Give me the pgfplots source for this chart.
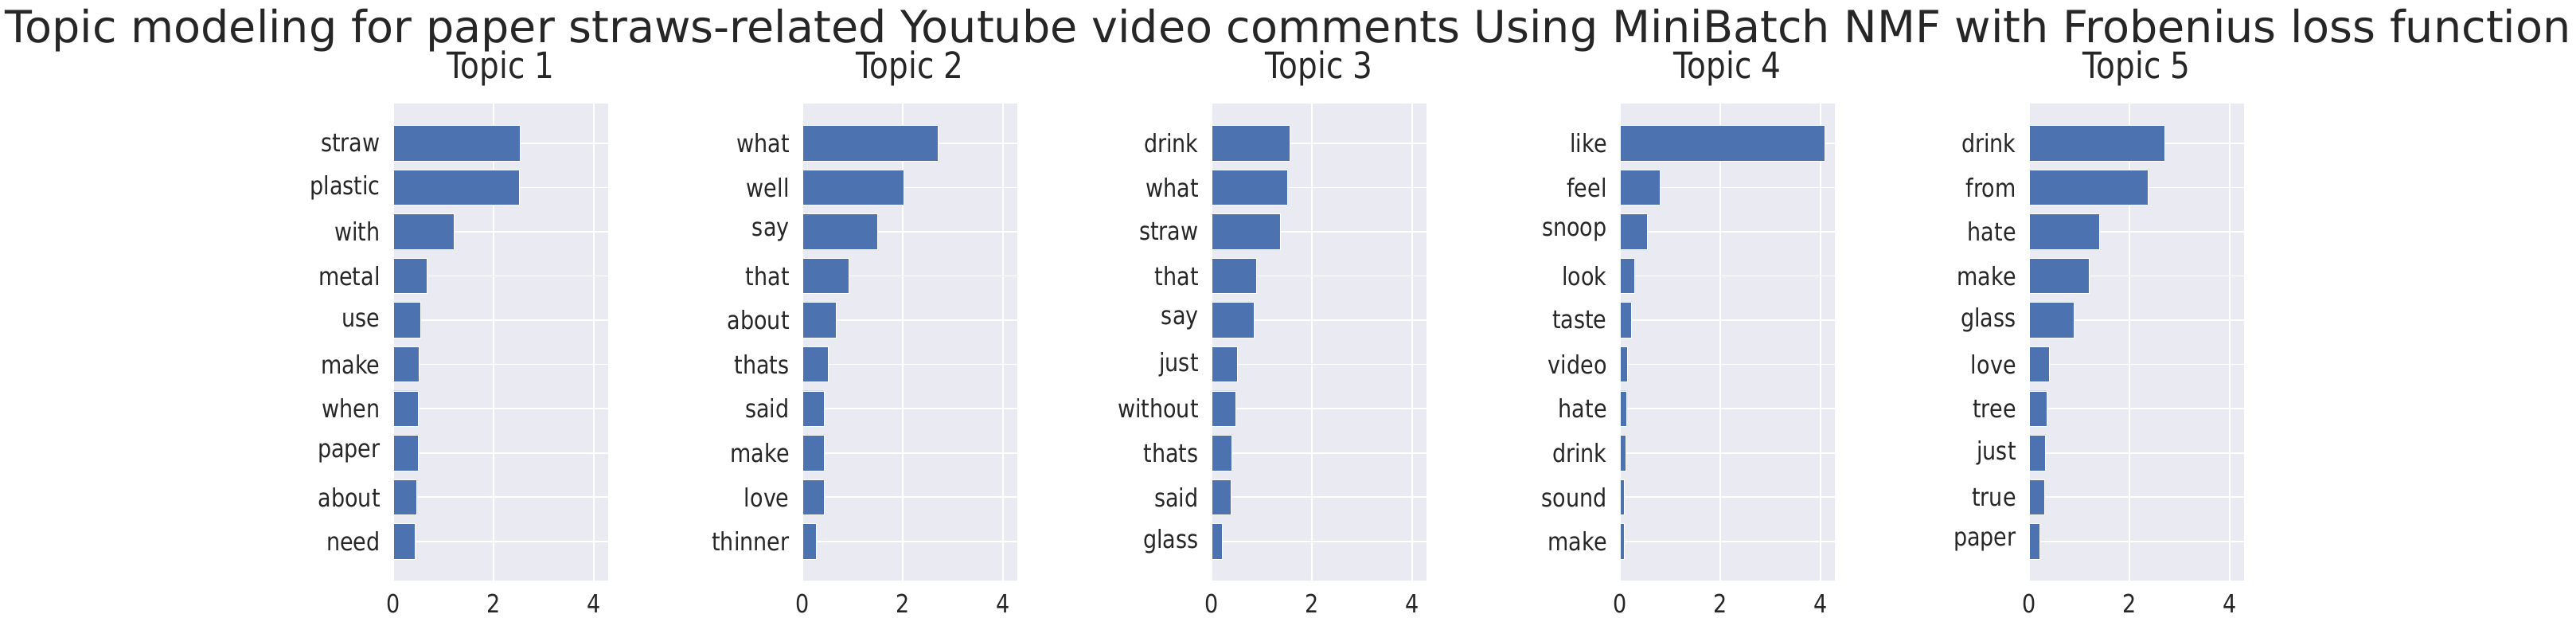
\documentclass[border=0pt]{standalone}
\usepackage{fontspec}
\setmainfont{DejaVu Sans}[FakeStretch=0.855]
\newfontfamily\titlefont{DejaVu Sans}
\usepackage{pgfplots}
\pgfplotsset{compat=1.18}
\definecolor{sbblue}{HTML}{4C72B0}
\definecolor{sbbg}{HTML}{EAEAF2}
\definecolor{sbtext}{HTML}{262626}
\pgfplotsset{topic/.style={
  width=67.5pt, height=149.72pt, scale only axis,
  anchor=south west,
  axis background/.style={fill=sbbg},
  axis line style={draw=none},
  xmin=0, xmax=4.29, ymin=-0.89, ymax=9.89, y dir=reverse,
  xtick={0,2,4}, ytick={0,...,9},
  major tick length=0pt,
  xmajorgrids, ymajorgrids,
  major grid style={white, line width=0.4pt},
  tick label style={font=\fontsize{7.9pt}{9pt}\selectfont, text=sbtext},
  /pgf/number format/assume math mode=true,
  xticklabel style={anchor=north, inner sep=0pt, yshift=-4pt},
  yticklabel style={anchor=east, inner sep=0pt, xshift=-3.9pt},
  title style={anchor=base, at={(0.5,1)}, yshift=1.93pt, font=\fontsize{11.4pt}{13pt}\selectfont, text=sbtext},
  xbar, bar width=0.8, bar shift=0pt,
}, mybar/.style={fill=sbblue, draw=white, line width=0.2pt}}
\begin{document}
\begin{tikzpicture}
\path[use as bounding box] (0,0) rectangle (809pt,195.25pt);
\node[anchor=base, font=\titlefont\fontsize{13.9pt}{16pt}\selectfont, text=sbtext] at (404.5pt,181.9pt) {Topic modeling for paper straws-related Youtube video comments Using MiniBatch NMF with Frobenius loss function};

\begin{axis}[topic, at={(123.5pt,12.93pt)}, title={Topic 1},
  yticklabels={straw,plastic,with,metal,use,make,when,paper,about,need}]
\addplot[mybar] coordinates {(2.54,0) (2.52,1) (1.21,2) (0.68,3) (0.55,4) (0.52,5) (0.50,6) (0.50,7) (0.46,8) (0.44,9)};
\end{axis}

\begin{axis}[topic, at={(252pt,12.93pt)}, title={Topic 2},
  yticklabels={what,well,say,that,about,thats,said,make,love,thinner}]
\addplot[mybar] coordinates {(2.71,0) (2.03,1) (1.50,2) (0.925,3) (0.67,4) (0.51,5) (0.44,6) (0.44,7) (0.43,8) (0.28,9)};
\end{axis}

\begin{axis}[topic, at={(380.5pt,12.93pt)}, title={Topic 3},
  yticklabels={drink,what,straw,that,say,just,without,thats,said,glass}]
\addplot[mybar] coordinates {(1.57,0) (1.52,1) (1.37,2) (0.89,3) (0.85,4) (0.52,5) (0.49,6) (0.41,7) (0.39,8) (0.21,9)};
\end{axis}

\begin{axis}[topic, at={(508.75pt,12.93pt)}, title={Topic 4},
  yticklabels={like,feel,snoop,look,taste,video,hate,drink,sound,make}]
\addplot[mybar] coordinates {(4.09,0) (0.80,1) (0.55,2) (0.30,3) (0.23,4) (0.15,5) (0.13,6) (0.11,7) (0.09,8) (0.08,9)};
\end{axis}

\begin{axis}[topic, at={(637.25pt,12.93pt)}, title={Topic 5},
  yticklabels={drink,from,hate,make,glass,love,tree,just,true,paper}]
\addplot[mybar] coordinates {(2.71,0) (2.37,1) (1.40,2) (1.19,3) (0.90,4) (0.41,5) (0.36,6) (0.33,7) (0.30,8) (0.22,9)};
\end{axis}
\end{tikzpicture}
\end{document}
